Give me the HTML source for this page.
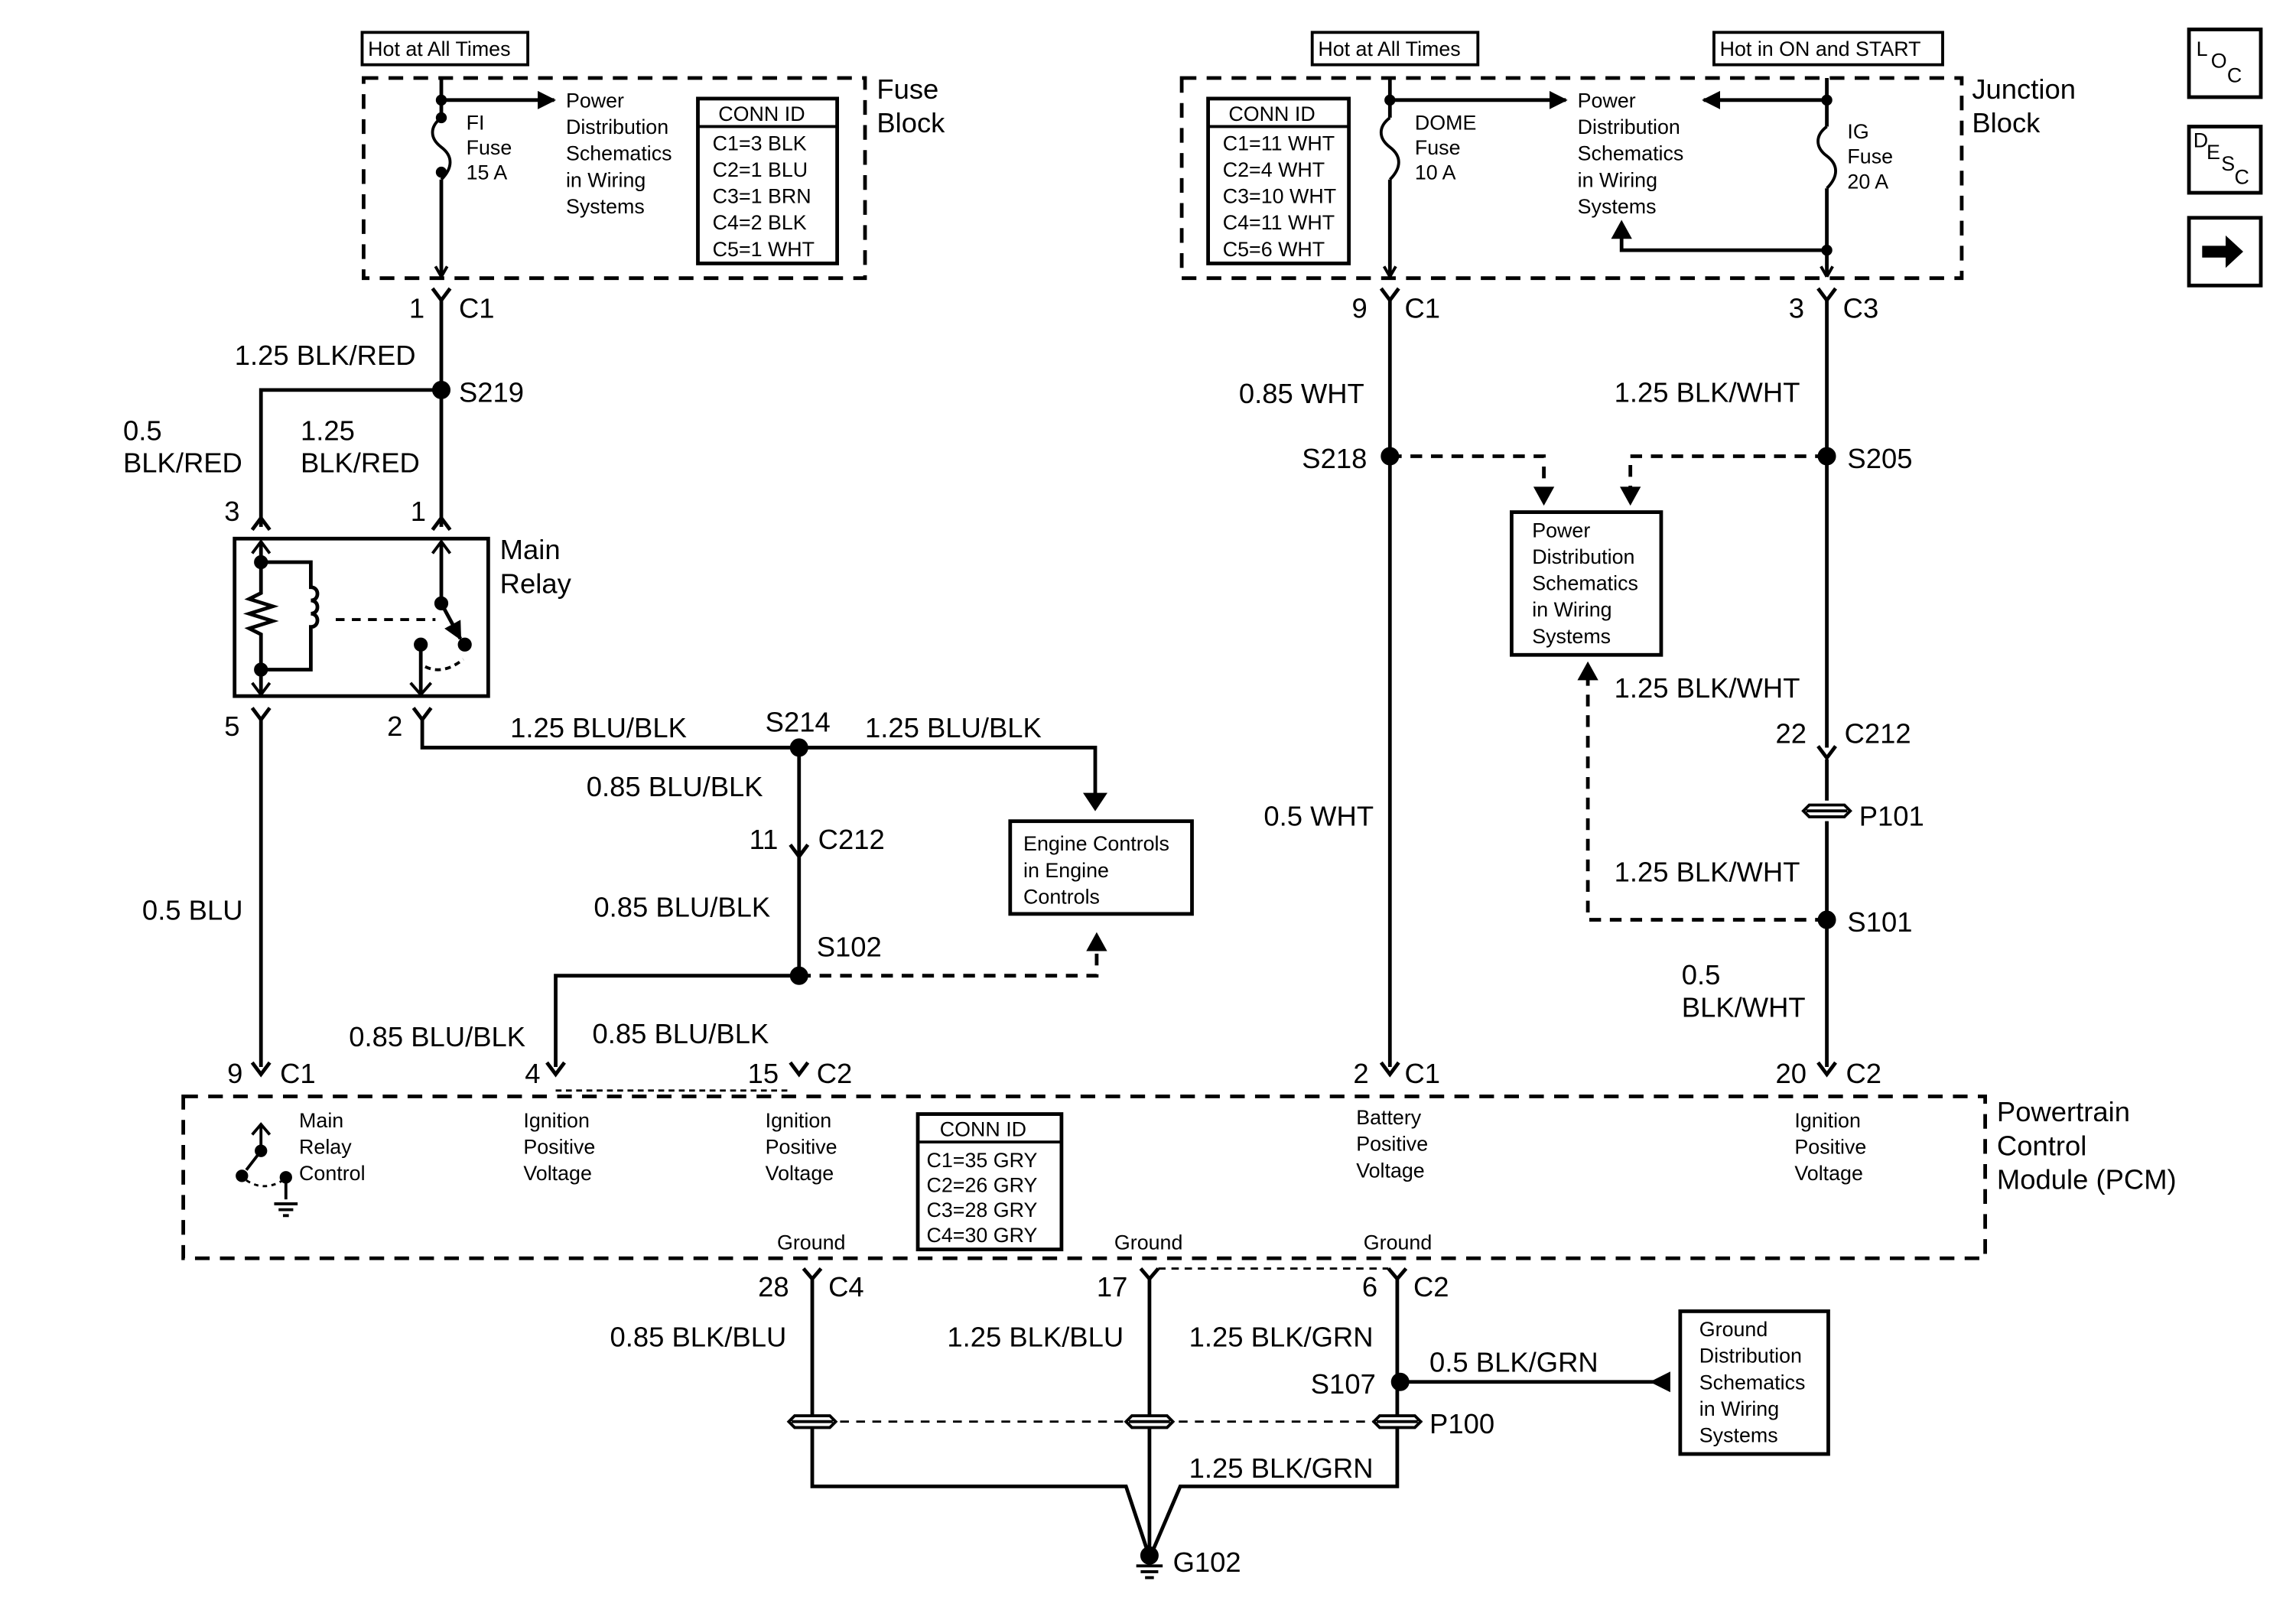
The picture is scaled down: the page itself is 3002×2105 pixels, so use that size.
<!DOCTYPE html>
<html><head><meta charset="utf-8"><style>
html,body{margin:0;padding:0;background:#fff;}
svg{display:block;}
text{font-family:"Liberation Sans",Arial,sans-serif;fill:#000;}
.l{font-size:19px;}
.s{font-size:14px;}
</style></head><body>
<svg width="3002" height="2105" viewBox="0 0 1566 1094" preserveAspectRatio="none" xmlns="http://www.w3.org/2000/svg">
<defs>
<marker id="a" viewBox="0 0 10 10" refX="9" refY="5" markerWidth="5" markerHeight="5" orient="auto"><path d="M0,0 L10,5 L0,10 z" fill="#000"/></marker>
</defs>
<g fill="none" stroke="#000" stroke-width="2.5">
<rect x="247" y="22" width="113" height="22" stroke-width="2"/>
<rect x="895" y="22" width="113" height="22" stroke-width="2"/>
<rect x="1169" y="22" width="156" height="22" stroke-width="2"/>
<rect x="248" y="53" width="342" height="136" stroke-dasharray="10,7"/>
<rect x="806" y="53" width="532" height="136" stroke-dasharray="10,7"/>
<rect x="476" y="67" width="95" height="112"/><line x1="476" y1="86" x2="571" y2="86" stroke-width="2"/>
<rect x="824" y="67" width="96" height="112"/><line x1="824" y1="86" x2="920" y2="86" stroke-width="2"/>
<path d="M301,53 V80 M301,122 V188"/>
<path d="M301,80 c-8,6 -8,14 0,20 c8,6 8,14 0,22" stroke-width="2"/>
<circle cx="301" cy="68" r="2.5" fill="#000"/><circle cx="301" cy="80" r="2.5" fill="#000"/><circle cx="301" cy="117" r="2.5" fill="#000"/>
<line x1="301" y1="68" x2="378" y2="68" marker-end="url(#a)"/>
<path d="M301,188 l-4,-7 M301,188 l4,-7" stroke-width="2"/>
<path d="M948,53 V80 M948,122 V188"/>
<path d="M948,80 c-8,6 -8,14 0,20 c8,6 8,14 0,22" stroke-width="2"/>
<circle cx="948" cy="68" r="2.5" fill="#000"/>
<line x1="948" y1="68" x2="1068" y2="68" marker-end="url(#a)"/>
<path d="M1246,53 V86 M1246,128 V188"/>
<path d="M1246,86 c-8,6 -8,14 0,20 c8,6 8,14 0,22" stroke-width="2"/>
<circle cx="1246" cy="68" r="2.5" fill="#000"/><circle cx="1246" cy="170" r="2.5" fill="#000"/>
<line x1="1246" y1="68" x2="1162" y2="68" marker-end="url(#a)"/>
<path d="M1246,170 H1106 V158" /><path d="M1106,152 l-5,9 h10z" fill="#000"/>
<path d="M948,188 l-4,-7 M948,188 l4,-7 M1246,188 l-4,-7 M1246,188 l4,-7" stroke-width="2"/>
<path d="M295,196 l6,8 l6,-8 M942,196 l6,8 l6,-8 M1240,196 l6,8 l6,-8"/>
<path d="M301,204 V358 M301,265 H178 V358"/>
<circle cx="301" cy="265" r="5" fill="#000"/>
<path d="M172,360 l6,-8 l6,8 M295,360 l6,-8 l6,8"/>
<rect x="160" y="366" width="173" height="107"/>
<path d="M178,368 V403 l-8,4 l16,5 l-16,5 l16,5 l-16,5 l8,4 V472"/>
<path d="M172,376 l6,-8 l6,8 M172,464 l6,8 l6,-8 M280,464 l7,8 l7,-8 M295,376 l6,-8 l6,8" stroke-width="2"/>
<path d="M178,382 H212 V399 c6,0 6,9 0,9 c6,0 6,9 0,9 c6,0 6,9 0,9 V455 H178"/>
<circle cx="178" cy="382" r="3.5" fill="#000"/><circle cx="178" cy="455" r="3.5" fill="#000"/>
<line x1="229" y1="421" x2="297" y2="421" stroke-dasharray="6,5" stroke-width="2"/>
<path d="M301,368 V410 L314,434" marker-end="url(#a)"/>
<circle cx="301" cy="410" r="3.5" fill="#000"/><circle cx="317" cy="438" r="3.5" fill="#000"/><circle cx="287" cy="438" r="3.5" fill="#000"/>
<path d="M287,438 V472"/>
<path d="M290,453 q12,6 26,-5" stroke-dasharray="4,3" stroke-width="2"/>
<path d="M172,481 l6,8 l6,-8 M282,481 l6,8 l6,-8"/>
<path d="M178,489 V725 M288,489 V508 H747 V545"/>
<path d="M741,540 l6,9 l6,-9z" fill="#000"/>
<circle cx="545" cy="508" r="5" fill="#000"/>
<path d="M545,508 V582 M539,574 l6,8 l6,-8 M545,582 V663 M545,663 H379 V725"/>
<circle cx="545" cy="663" r="5" fill="#000"/>
<path d="M545,663 H748 V644" stroke-dasharray="8,6"/>
<path d="M743,645 l5,-9 l5,9z" fill="#000"/>
<rect x="689" y="558" width="124" height="63"/>
<path d="M172,722 l6,8 l6,-8 M373,722 l6,8 l6,-8 M539,722 l6,8 l6,-8 M942,722 l6,8 l6,-8 M1240,722 l6,8 l6,-8"/>
<line x1="379" y1="741" x2="540" y2="741" stroke-dasharray="4,3" stroke-width="1.5"/>
<path d="M948,204 V725 M1246,204 V508 M1246,516 V544 M1246,558 V725"/>
<path d="M1240,507 l6,8 l6,-8"/>
<circle cx="948" cy="310" r="5" fill="#000"/><circle cx="1246" cy="310" r="5" fill="#000"/><circle cx="1246" cy="625" r="5" fill="#000"/>
<path d="M948,310 H1053 V333 M1246,310 H1112 V333 M1246,625 H1083 V460" stroke-dasharray="8,6"/>
<path d="M1048,332 l5,9 l5,-9z M1107,332 l5,9 l5,-9z M1078,461 l5,-9 l5,9z" fill="#000"/>
<rect x="1031" y="348" width="102" height="97"/>
<path d="M1234,547 h24 l4,4 l-4,4 h-24 l-4,-4z M1232,551 h28" stroke-width="2" fill="#fff"/>
<rect x="125" y="745" width="1229" height="110" stroke-dasharray="10,7"/>
<rect x="626" y="757" width="98" height="92"/><line x1="626" y1="776" x2="724" y2="776" stroke-width="2"/>
<path d="M178,765 V782 L168,795" stroke-width="2"/><path d="M172,771 l6,-7 l6,7" stroke-width="2"/>
<circle cx="178" cy="782" r="3" fill="#000"/><circle cx="165" cy="799" r="3" fill="#000"/><circle cx="195" cy="800" r="3" fill="#000"/>
<path d="M168,802 q12,8 25,0" stroke-dasharray="3,3" stroke-width="1.5"/>
<path d="M195,800 V815 M187,818 h16 M190,822 h10 M193,826 h4" stroke-width="2"/>
<path d="M548,862 l6,7 l6,-7 M778,862 l6,7 l6,-7 M947,862 l6,7 l6,-7"/>
<line x1="790" y1="862" x2="947" y2="862" stroke-dasharray="5,4" stroke-width="1.5"/>
<path d="M554,869 V1010 H768 L782,1052 M784,869 V1057 M953,869 V1010 H805 L787,1052"/>
<line x1="540" y1="966" x2="970" y2="966" stroke-dasharray="6,5" stroke-width="1.5"/>
<path d="M542,962 h24 l4,4 l-4,4 h-24 l-4,-4z M540,966 h28 M772,962 h24 l4,4 l-4,4 h-24 l-4,-4z M770,966 h28 M941,962 h24 l4,4 l-4,4 h-24 l-4,-4z M939,966 h28" stroke-width="2" fill="#fff"/>
<circle cx="955" cy="939" r="5" fill="#000"/>
<path d="M955,939 H1128"/><path d="M1138,934 l-10,5 l10,5z" fill="#000"/>
<rect x="1146" y="891" width="101" height="97"/>
<circle cx="784" cy="1057" r="5" fill="#000"/>
<path d="M775,1064 h18 M778,1068 h12 M781,1072 h6" stroke-width="2"/>
<rect x="1493" y="20" width="49" height="46"/><rect x="1493" y="86" width="49" height="45"/><rect x="1493" y="148" width="49" height="46"/>
<path d="M1502,167 h16 v-7 l12,11 l-12,11 v-7 h-16z" fill="#000" stroke="none"/>
</g>
<g>
<text class="s" x="251" y="38">Hot at All Times</text>
<text class="s" x="899" y="38">Hot at All Times</text>
<text class="s" x="1173" y="38">Hot in ON and START</text>
<text class="s" x="318" y="88">FI</text><text class="s" x="318" y="105">Fuse</text><text class="s" x="318" y="122">15 A</text>
<text class="s" x="386" y="73">Power</text><text class="s" x="386" y="91">Distribution</text><text class="s" x="386" y="109">Schematics</text><text class="s" x="386" y="127">in Wiring</text><text class="s" x="386" y="145">Systems</text>
<text class="s" x="490" y="82">CONN ID</text><text class="s" x="486" y="102">C1=3 BLK</text><text class="s" x="486" y="120">C2=1 BLU</text><text class="s" x="486" y="138">C3=1 BRN</text><text class="s" x="486" y="156">C4=2 BLK</text><text class="s" x="486" y="174">C5=1 WHT</text>
<text class="l" x="598" y="67">Fuse</text><text class="l" x="598" y="90">Block</text>
<text class="s" x="838" y="82">CONN ID</text><text class="s" x="834" y="102">C1=11 WHT</text><text class="s" x="834" y="120">C2=4 WHT</text><text class="s" x="834" y="138">C3=10 WHT</text><text class="s" x="834" y="156">C4=11 WHT</text><text class="s" x="834" y="174">C5=6 WHT</text>
<text class="s" x="965" y="88">DOME</text><text class="s" x="965" y="105">Fuse</text><text class="s" x="965" y="122">10 A</text>
<text class="s" x="1076" y="73">Power</text><text class="s" x="1076" y="91">Distribution</text><text class="s" x="1076" y="109">Schematics</text><text class="s" x="1076" y="127">in Wiring</text><text class="s" x="1076" y="145">Systems</text>
<text class="s" x="1260" y="94">IG</text><text class="s" x="1260" y="111">Fuse</text><text class="s" x="1260" y="128">20 A</text>
<text class="l" x="1345" y="67">Junction</text><text class="l" x="1345" y="90">Block</text>
<text class="l" x="279" y="216">1</text><text class="l" x="313" y="216">C1</text>
<text class="l" x="922" y="216">9</text><text class="l" x="958" y="216">C1</text>
<text class="l" x="1220" y="216">3</text><text class="l" x="1257" y="216">C3</text>
<text class="l" x="160" y="248">1.25 BLK/RED</text>
<text class="l" x="313" y="273">S219</text>
<text class="l" x="84" y="299">0.5</text><text class="l" x="84" y="321">BLK/RED</text>
<text class="l" x="205" y="299">1.25</text><text class="l" x="205" y="321">BLK/RED</text>
<text class="l" x="153" y="354">3</text><text class="l" x="280" y="354">1</text>
<text class="l" x="341" y="380">Main</text><text class="l" x="341" y="403">Relay</text>
<text class="l" x="153" y="500">5</text><text class="l" x="264" y="500">2</text>
<text class="l" x="348" y="501">1.25 BLU/BLK</text>
<text class="l" x="522" y="497">S214</text>
<text class="l" x="590" y="501">1.25 BLU/BLK</text>
<text class="l" x="400" y="541">0.85 BLU/BLK</text>
<text class="l" x="511" y="577">11</text><text class="l" x="558" y="577">C212</text>
<text class="s" x="698" y="578">Engine Controls</text><text class="s" x="698" y="596">in Engine</text><text class="s" x="698" y="614">Controls</text>
<text class="l" x="97" y="625">0.5 BLU</text>
<text class="l" x="405" y="623">0.85 BLU/BLK</text>
<text class="l" x="557" y="650">S102</text>
<text class="l" x="238" y="711">0.85 BLU/BLK</text>
<text class="l" x="404" y="709">0.85 BLU/BLK</text>
<text class="l" x="155" y="736">9</text><text class="l" x="191" y="736">C1</text>
<text class="l" x="358" y="736">4</text>
<text class="l" x="510" y="736">15</text><text class="l" x="557" y="736">C2</text>
<text class="l" x="923" y="736">2</text><text class="l" x="958" y="736">C1</text>
<text class="l" x="1211" y="736">20</text><text class="l" x="1259" y="736">C2</text>
<text class="l" x="845" y="274">0.85 WHT</text>
<text class="l" x="1101" y="273">1.25 BLK/WHT</text>
<text class="l" x="888" y="318">S218</text><text class="l" x="1260" y="318">S205</text>
<text class="s" x="1045" y="365">Power</text><text class="s" x="1045" y="383">Distribution</text><text class="s" x="1045" y="401">Schematics</text><text class="s" x="1045" y="419">in Wiring</text><text class="s" x="1045" y="437">Systems</text>
<text class="l" x="1101" y="474">1.25 BLK/WHT</text>
<text class="l" x="1211" y="505">22</text><text class="l" x="1258" y="505">C212</text>
<text class="l" x="862" y="561">0.5 WHT</text>
<text class="l" x="1268" y="561">P101</text>
<text class="l" x="1101" y="599">1.25 BLK/WHT</text>
<text class="l" x="1260" y="633">S101</text>
<text class="l" x="1147" y="669">0.5</text><text class="l" x="1147" y="691">BLK/WHT</text>
<text class="s" x="204" y="766">Main</text><text class="s" x="204" y="784">Relay</text><text class="s" x="204" y="802">Control</text>
<text class="s" x="357" y="766">Ignition</text><text class="s" x="357" y="784">Positive</text><text class="s" x="357" y="802">Voltage</text>
<text class="s" x="522" y="766">Ignition</text><text class="s" x="522" y="784">Positive</text><text class="s" x="522" y="802">Voltage</text>
<text class="s" x="925" y="764">Battery</text><text class="s" x="925" y="782">Positive</text><text class="s" x="925" y="800">Voltage</text>
<text class="s" x="1224" y="766">Ignition</text><text class="s" x="1224" y="784">Positive</text><text class="s" x="1224" y="802">Voltage</text>
<text class="s" x="641" y="772">CONN ID</text><text class="s" x="632" y="793">C1=35 GRY</text><text class="s" x="632" y="810">C2=26 GRY</text><text class="s" x="632" y="827">C3=28 GRY</text><text class="s" x="632" y="844">C4=30 GRY</text>
<text class="l" x="1362" y="762">Powertrain</text><text class="l" x="1362" y="785">Control</text><text class="l" x="1362" y="808">Module (PCM)</text>
<text class="s" x="530" y="849">Ground</text><text class="s" x="760" y="849">Ground</text><text class="s" x="930" y="849">Ground</text>
<text class="l" x="517" y="881">28</text><text class="l" x="565" y="881">C4</text>
<text class="l" x="748" y="881">17</text>
<text class="l" x="929" y="881">6</text><text class="l" x="964" y="881">C2</text>
<text class="l" x="416" y="915">0.85 BLK/BLU</text>
<text class="l" x="646" y="915">1.25 BLK/BLU</text>
<text class="l" x="811" y="915">1.25 BLK/GRN</text>
<text class="l" x="894" y="947">S107</text>
<text class="l" x="975" y="932">0.5 BLK/GRN</text>
<text class="l" x="975" y="974">P100</text>
<text class="l" x="811" y="1004">1.25 BLK/GRN</text>
<text class="l" x="800" y="1068">G102</text>
<text class="s" x="1159" y="908">Ground</text><text class="s" x="1159" y="926">Distribution</text><text class="s" x="1159" y="944">Schematics</text><text class="s" x="1159" y="962">in Wiring</text><text class="s" x="1159" y="980">Systems</text>
<text class="s" x="1498" y="38">L</text><text class="s" x="1508" y="46">O</text><text class="s" x="1519" y="56">C</text>
<text class="s" x="1496" y="100">D</text><text class="s" x="1505" y="108">E</text><text class="s" x="1515" y="116">S</text><text class="s" x="1524" y="125">C</text>
</g>
</svg>
</body></html>
